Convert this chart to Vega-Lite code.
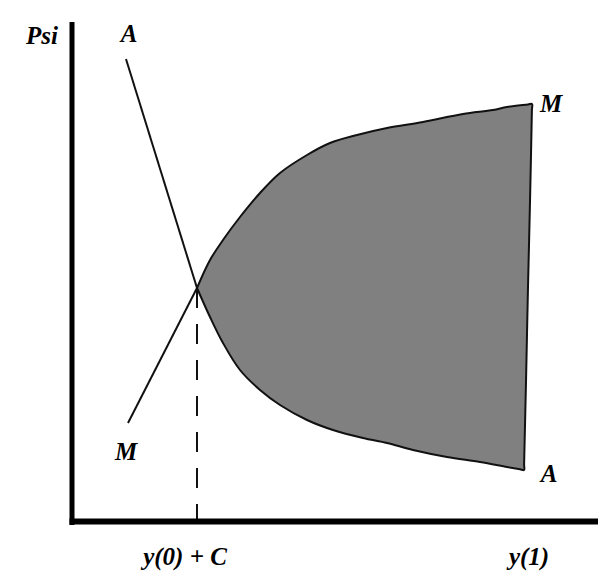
{
  "$schema": "https://vega.github.io/schema/vega-lite/v6.json",
  "width": 607,
  "height": 582,
  "padding": 0,
  "autosize": {"type": "none"},
  "background": "white",
  "config": {"view": {"stroke": null}},
  "datasets": {
    "region": [
      {"x": 125, "y": 234, "ord": 1},
      {"x": 138, "y": 262, "ord": 2},
      {"x": 151, "y": 282, "ord": 3},
      {"x": 168, "y": 305, "ord": 4},
      {"x": 188, "y": 329, "ord": 5},
      {"x": 208, "y": 349, "ord": 6},
      {"x": 235, "y": 367, "ord": 7},
      {"x": 258, "y": 379, "ord": 8},
      {"x": 285, "y": 387, "ord": 9},
      {"x": 315, "y": 394, "ord": 10},
      {"x": 351, "y": 400, "ord": 11},
      {"x": 391, "y": 408, "ord": 12},
      {"x": 421, "y": 412, "ord": 13},
      {"x": 435, "y": 415, "ord": 14},
      {"x": 456, "y": 417.5, "ord": 14.5},
      {"x": 460, "y": 418, "ord": 15},
      {"x": 459.9, "y": 412, "ord": 15.2},
      {"x": 458, "y": 320, "ord": 15.4},
      {"x": 456, "y": 235, "ord": 15.6},
      {"x": 454, "y": 140, "ord": 15.8},
      {"x": 452.1, "y": 58, "ord": 15.9},
      {"x": 452, "y": 52, "ord": 16},
      {"x": 448, "y": 52.7, "ord": 16.5},
      {"x": 435, "y": 55, "ord": 17},
      {"x": 408, "y": 60, "ord": 18},
      {"x": 375, "y": 65, "ord": 19},
      {"x": 341, "y": 72, "ord": 20},
      {"x": 315, "y": 79, "ord": 21},
      {"x": 291, "y": 84, "ord": 22},
      {"x": 261, "y": 92, "ord": 23},
      {"x": 235, "y": 102, "ord": 24},
      {"x": 208, "y": 117, "ord": 25},
      {"x": 188, "y": 132, "ord": 26},
      {"x": 168, "y": 152, "ord": 27},
      {"x": 151, "y": 179, "ord": 28},
      {"x": 138, "y": 205, "ord": 29},
      {"x": 125, "y": 234, "ord": 30}
    ],
    "lines": [
      {"curve": "M", "x": 56, "y": 99, "ord": 1},
      {"curve": "M", "x": 125, "y": 234, "ord": 2},
      {"curve": "A", "x": 54, "y": 463, "ord": 1},
      {"curve": "A", "x": 125, "y": 234, "ord": 2}
    ],
    "dash": [
      {"x": 125, "y": 234, "ord": 1},
      {"x": 125, "y": 0, "ord": 2}
    ],
    "yaxis": [
      {"x": 0, "y": -3, "ord": 1},
      {"x": 0, "y": 500, "ord": 2}
    ],
    "xaxis": [
      {"x": -2.5, "y": 0.5, "ord": 1},
      {"x": 526, "y": 0.5, "ord": 2}
    ],
    "labels": [
      {"label": "Psi", "x": -30, "y": 478},
      {"label": "A", "x": 57, "y": 480},
      {"label": "M", "x": 479, "y": 410},
      {"label": "M", "x": 54, "y": 62},
      {"label": "A", "x": 477, "y": 40},
      {"label": "y(0) + C", "x": 113, "y": -43},
      {"label": "y(1)", "x": 457, "y": -43}
    ]
  },
  "encoding": {
    "x": {"field": "x", "type": "quantitative", "scale": {"domain": [-72, 535], "nice": false, "zero": false}, "axis": null},
    "y": {"field": "y", "type": "quantitative", "scale": {"domain": [-60, 522], "nice": false, "zero": false}, "axis": null}
  },
  "layer": [
    {
      "data": {"name": "region"},
      "mark": {"type": "line", "fill": "#808080", "stroke": "#111111", "strokeWidth": 2, "interpolate": "catmull-rom"},
      "encoding": {"order": {"field": "ord", "type": "quantitative"}}
    },
    {
      "data": {"name": "lines"},
      "mark": {"type": "line", "stroke": "#111111", "strokeWidth": 2},
      "encoding": {"order": {"field": "ord", "type": "quantitative"}, "detail": {"field": "curve", "type": "nominal"}}
    },
    {
      "data": {"name": "dash"},
      "mark": {"type": "line", "stroke": "#111111", "strokeWidth": 2, "strokeDash": [20, 16]},
      "encoding": {"order": {"field": "ord", "type": "quantitative"}}
    },
    {
      "data": {"name": "yaxis"},
      "mark": {"type": "line", "stroke": "#000000", "strokeWidth": 5},
      "encoding": {"order": {"field": "ord", "type": "quantitative"}}
    },
    {
      "data": {"name": "xaxis"},
      "mark": {"type": "line", "stroke": "#000000", "strokeWidth": 6},
      "encoding": {"order": {"field": "ord", "type": "quantitative"}}
    },
    {
      "data": {"name": "labels"},
      "mark": {"type": "text", "font": "Liberation Serif", "fontSize": 25, "fontWeight": "bold", "fontStyle": "italic", "align": "center", "baseline": "alphabetic", "color": "#000000"},
      "encoding": {"text": {"field": "label", "type": "nominal"}}
    }
  ]
}
